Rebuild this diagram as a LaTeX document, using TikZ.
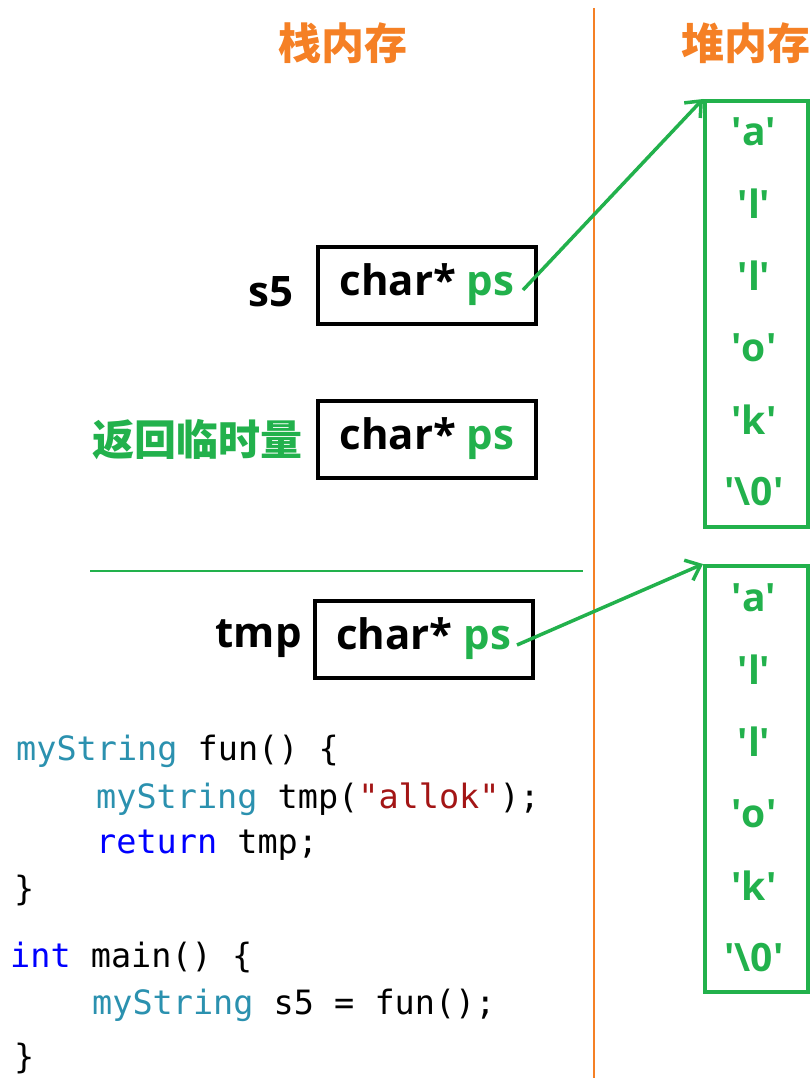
\documentclass[tikz,border=0pt]{standalone}
\usepackage{fontspec}
\setmainfont{Open Sans}
\setmonofont{DejaVu Sans Mono}
\newfontfamily\cjk{Noto Sans CJK SC}
\usetikzlibrary{arrows.meta}
\definecolor{myorange}{HTML}{F58025}
\definecolor{mygreen}{HTML}{22B14C}
\definecolor{typeteal}{HTML}{2B91AF}
\definecolor{kwblue}{HTML}{0000FF}
\definecolor{strred}{HTML}{A31515}
\newcommand{\q}{\textquotesingle}
\newcommand{\boxtext}{\raisebox{-4pt}{char* \textcolor{mygreen}{ps}}}
\tikzset{
  title/.style={font=\cjk\bfseries\fontsize{43}{46}\selectfont, text=myorange, inner sep=0pt},
  stackbox/.style={draw=black, line width=4pt, minimum width=218pt, minimum height=77pt, inner sep=0pt,
                   font=\bfseries\fontsize{42}{46}\selectfont},
  varlabel/.style={font=\bfseries\fontsize{42}{46}\selectfont, inner sep=0pt, anchor=east},
  heapbox/.style={draw=mygreen, line width=4pt, minimum width=103pt, minimum height=426pt, inner sep=0pt},
  heapchar/.style={font=\bfseries\fontsize{39}{42}\selectfont, text=mygreen, inner sep=0pt},
  ptr/.style={draw=mygreen, line width=3.5pt, -{Straight Barb[length=13pt,width=22pt,line width=3.5pt]}},
  code/.style={font=\ttfamily\fontsize{33.5}{36}\selectfont, inner sep=0pt, anchor=base west},
}
\begin{document}
\begin{tikzpicture}[x=1pt,y=-1pt]
\useasboundingbox (0,0) rectangle (811,1078);
% separators
\draw[myorange, line width=1.5pt] (594,8) -- (594,1078);
\draw[mygreen, line width=1.3pt] (90,571) -- (583,571);
% titles
\node[title] (tstack) at (343,43) {栈内存};
\node[title, anchor=west] (theap) at (681,43) {堆内存};
% stack boxes
\node[stackbox] (b1) at (427,285) {\boxtext};
\node[varlabel] (l1) at (294,292) {s5};
\node[stackbox] (b2) at (427,439) {\boxtext};
\node[varlabel, font=\cjk\bfseries\fontsize{42}{46}\selectfont, text=mygreen] (l2) at (303,440) {返回临时量};
\node[stackbox] (b3) at (423.5,639) {\boxtext};
\node[varlabel] (l3) at (302,639) {tmp};
% heap boxes
\node[heapbox] (h1) at (756.5,314) {};
\node[heapbox] (h2) at (756.5,779) {};
\foreach \c [count=\i] in {a,l,l,o,k,\textbackslash 0} {
  \node[heapchar] (ha\i) at (754,{132+72*(\i-1)}) {\q\c\q};
  \node[heapchar] (hb\i) at (754,{598+72*(\i-1)}) {\q\c\q};
}
% pointers
\coordinate (p1) at (523,290);
\coordinate (p3) at (517,645);
\draw[ptr] (p1) -- (h1.north west);
\draw[ptr] (p3) -- (h2.north west);
% code
\node[code] (c1) at (16,760) {\textcolor{typeteal}{myString} fun() \{};
\node[code] (c2) at (96,808) {\textcolor{typeteal}{myString} tmp(\textcolor{strred}{"allok"});};
\node[code] (c3) at (96,853) {\textcolor{kwblue}{return} tmp;};
\node[code] (c4) at (14,900) {\}};
\node[code] (c5) at (10,967) {\textcolor{kwblue}{int} main() \{};
\node[code] (c6) at (92,1014) {\textcolor{typeteal}{myString} s5 = fun();};
\node[code] (c7) at (14,1068) {\}};
\end{tikzpicture}
\end{document}
